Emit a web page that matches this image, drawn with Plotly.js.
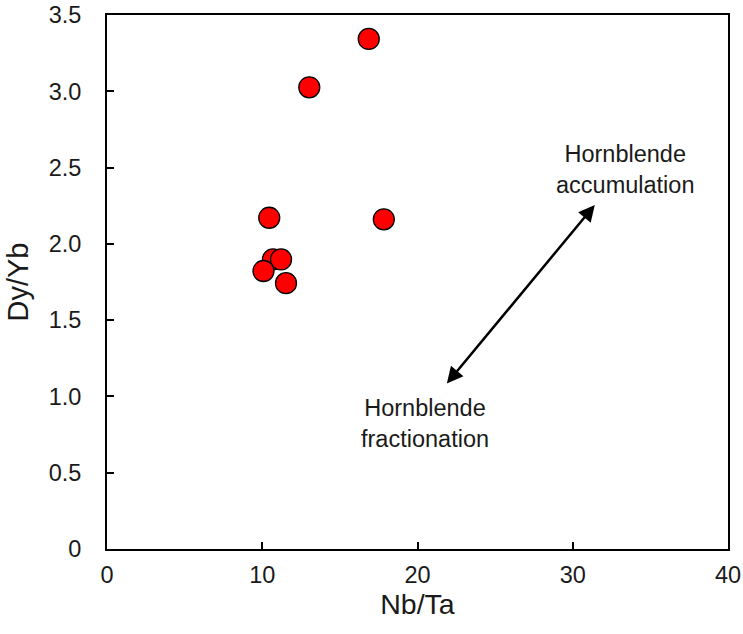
<!DOCTYPE html>
<html>
<head>
<meta charset="utf-8">
<script src="https://cdn.plot.ly/plotly-3.0.1.min.js"></script>
<style>html,body{margin:0;padding:0;background:#fff;}#chart{width:743px;height:634px;}</style>
</head>
<body>
<div id="chart"></div>
<script>
// Data
var nbTa = [16.86, 13.03, 10.45, 17.83, 10.69, 11.21, 10.08, 11.53];
var dyYb = [3.343, 3.026, 2.171, 2.161, 1.898, 1.898, 1.822, 1.742];

var xTickVals = [0, 10, 20, 30, 40];
var xTickText = ['0', '10', '20', '30', '40'];
var yTickVals = [0, 0.5, 1.0, 1.5, 2.0, 2.5, 3.0, 3.5];
var yTickText = ['0', '0.5', '1.0', '1.5', '2.0', '2.5', '3.0', '3.5'];

// Trend arrow ends (Nb/Ta, Dy/Yb)
var arrowStart = [21.81, 1.075];
var arrowEnd = [31.42, 2.255];

var labelAccum = 'Hornblende<br>accumulation';
var labelFrac = 'Hornblende<br>fractionation';
var labelAccumPos = [33.39, 2.49];
var labelFracPos = [20.48, 0.82];

var font = 'Liberation Sans, Arial, sans-serif';

var trace = {
  x: nbTa, y: dyYb, type: 'scatter', mode: 'markers',
  marker: {size: 21, color: '#ff0000', line: {color: '#000', width: 1.3}},
  hoverinfo: 'x+y', showlegend: false
};

function txt(t, pos) {
  return {text: t, x: pos[0], y: pos[1], xref: 'x', yref: 'y', showarrow: false,
    font: {family: font, size: 23.5, color: '#1a1a1a'}, xanchor: 'center', yanchor: 'middle', align: 'center'};
}

var layout = {
  width: 743, height: 634,
  margin: {l: 107, r: 15, t: 15, b: 85},
  paper_bgcolor: '#fff', plot_bgcolor: '#fff',
  font: {family: font, color: '#1a1a1a'},
  xaxis: {
    range: [0, 40], tickvals: xTickVals, ticktext: xTickText,
    ticks: 'inside', ticklen: 7, tickwidth: 2, tickcolor: '#000',
    showline: true, linecolor: '#000', linewidth: 2, mirror: true,
    showgrid: false, zeroline: false,
    tickfont: {family: font, size: 23.5, color: '#1a1a1a'},
    ticklabelstandoff: 4,
    title: {text: 'Nb/Ta', font: {family: font, size: 28.5, color: '#1a1a1a'}, standoff: 0}
  },
  yaxis: {
    range: [0, 3.5], tickvals: yTickVals, ticktext: yTickText,
    ticks: 'inside', ticklen: 7, tickwidth: 2, tickcolor: '#000',
    showline: true, linecolor: '#000', linewidth: 2, mirror: true,
    showgrid: false, zeroline: false,
    tickfont: {family: font, size: 23.5, color: '#1a1a1a'},
    ticklabelstandoff: 19,
    title: {text: 'Dy/Yb', font: {family: font, size: 29, color: '#1a1a1a'}, standoff: 11}
  },
  annotations: [
    {x: arrowEnd[0], y: arrowEnd[1], ax: arrowStart[0], ay: arrowStart[1],
     xref: 'x', yref: 'y', axref: 'x', ayref: 'y', text: '', showarrow: true,
     arrowhead: 2, startarrowhead: 2, arrowside: 'end+start', arrowsize: 1.3, startarrowsize: 1.3,
     arrowwidth: 2.5, arrowcolor: '#000'},
    txt(labelAccum, labelAccumPos),
    txt(labelFrac, labelFracPos)
  ]
};

Plotly.newPlot('chart', [trace], layout, {displayModeBar: false, staticPlot: true});
</script>
</body>
</html>
